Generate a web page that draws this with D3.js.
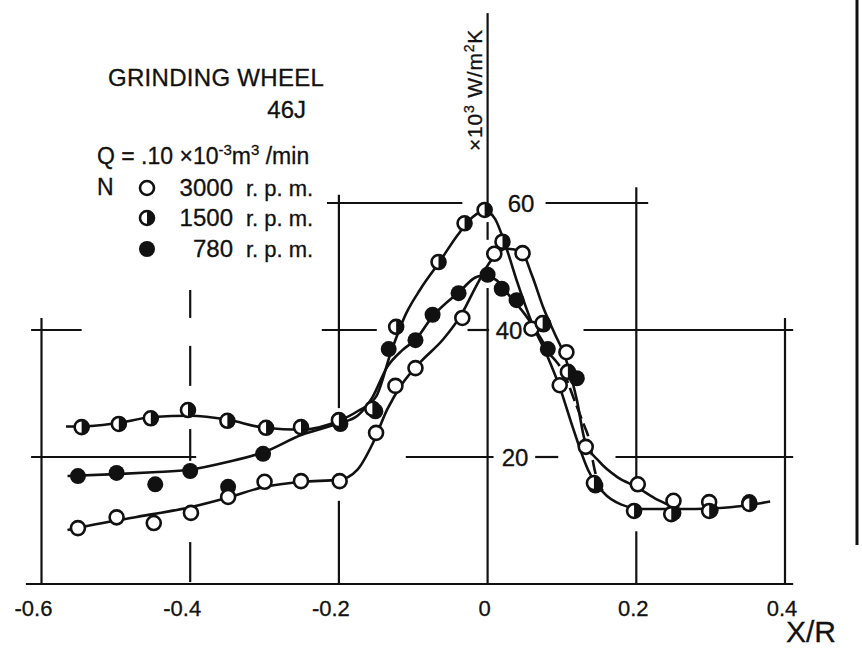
<!DOCTYPE html>
<html>
<head>
<meta charset="utf-8">
<script src="https://cdn.jsdelivr.net/npm/d3@7"></script>
<style>
  body { margin: 0; background: #fff; }
  svg { display: block; }
  text { font-family: "Liberation Sans", Arial, sans-serif; fill: #111; stroke: #111; stroke-width: 0.3; }
</style>
</head>
<body>
<svg id="chart" width="862" height="648"></svg>
<script>
// tick values
const xTicks = [-0.6, -0.4, -0.2, 0, 0.2, 0.4];
const yTicks = [20, 40, 60];

// measured points [X/R, h x10^3 W/m2K]
const pts3000 = [[-0.551,8.8],[-0.499,10.5],[-0.449,9.6],[-0.399,11.2],[-0.349,13.7],[-0.30,16.1],[-0.251,16.2],[-0.199,16.2],[-0.15,23.8],[-0.124,31.2],[-0.097,34.0],[-0.034,41.9],[0.009,52.0],[0.047,52.1],[0.059,40.2],[0.075,40.9],[0.106,36.5],[0.097,31.3],[0.132,21.6],[0.202,15.7],[0.25,13.1],[0.298,12.9]];
const pts1500 = [[-0.546,24.7],[-0.496,25.2],[-0.453,26.1],[-0.403,27.4],[-0.35,25.7],[-0.298,24.6],[-0.251,24.7],[-0.2,25.8],[-0.155,27.6],[-0.123,40.5],[-0.066,50.7],[-0.031,56.8],[-0.004,58.9],[0.02,53.9],[0.074,41.1],[0.108,33.4],[0.143,15.9],[0.197,11.5],[0.247,11.0],[0.298,11.5],[0.352,12.6]];
const pts780 = [[-0.551,17.0],[-0.499,17.5],[-0.447,15.7],[-0.40,17.8],[-0.349,15.3],[-0.302,20.5],[-0.198,25.2],[-0.151,27.2],[-0.133,37.0],[-0.097,38.4],[-0.074,42.4],[-0.039,45.8],[0.0,48.7],[0.019,46.5],[0.039,44.7],[0.081,37.0],[0.12,32.4],[0.145,15.5],[0.25,11.2],[0.3,11.6],[0.352,12.9]];

// hand drawn fitted curves
const curve3000 = [[-0.565,8.5],[-0.5,10.0],[-0.45,11.0],[-0.4,12.1],[-0.35,13.6],[-0.3,15.3],[-0.25,16.1],[-0.2,16.4],[-0.175,18.0],[-0.155,22.0],[-0.135,27.5],[-0.115,31.5],[-0.09,35.0],[-0.06,38.5],[-0.035,42.5],[-0.015,47.0],[0.005,51.0],[0.025,52.8],[0.045,52.4],[0.06,48.5],[0.075,43.5],[0.09,39.5],[0.105,35.5],[0.12,29.0],[0.131,22.5],[0.15,19.3],[0.175,16.8],[0.2,15.3],[0.225,13.5],[0.245,12.4]];
const curve1500 = [[-0.567,24.8],[-0.546,24.8],[-0.5,25.3],[-0.45,26.3],[-0.4,26.5],[-0.35,25.9],[-0.3,24.6],[-0.25,24.3],[-0.2,25.7],[-0.175,27.2],[-0.15,29.5],[-0.13,36.5],[-0.11,42.5],[-0.09,46.5],[-0.066,50.5],[-0.04,55.0],[-0.02,57.8],[-0.004,58.8],[0.01,57.5],[0.025,53.0],[0.04,47.5],[0.06,41.0],[0.08,36.0],[0.097,31.0],[0.115,24.5],[0.135,18.0],[0.155,14.5],[0.18,12.5],[0.21,11.8],[0.26,11.8],[0.3,11.9],[0.35,12.4],[0.38,13.0]];
const curve780 = [[-0.565,17.0],[-0.5,17.3],[-0.45,17.6],[-0.4,18.0],[-0.35,19.2],[-0.3,20.8],[-0.25,23.5],[-0.2,25.3],[-0.175,26.5],[-0.155,29.4],[-0.135,34.2],[-0.115,36.8],[-0.096,38.6],[-0.075,42.0],[-0.04,45.8],[-0.01,48.5],[0.01,48.0],[0.03,45.3],[0.05,42.5],[0.07,39.0],[0.085,36.0]];
const curve780dash = [[0.085,36.0],[0.105,32.6],[0.115,29.5],[0.128,25.5],[0.137,22.5],[0.143,18.5],[0.15,15.5],[0.156,14.6]];

const svg = d3.select("#chart");

const x = d3.scaleLinear().domain([-0.6, 0.4]).range([41.5, 785]);
const y = d3.scaleLinear().domain([0, 60]).range([584, 203]);

// broken grid lines, drawn like the original sheet
const vSegs = [
  [-0.6, 0, 41.9],
  [-0.4, 41.9, 46.3], [-0.4, 31.2, 37.5], [-0.4, 19.4, 24.4], [-0.4, 0.3, 6.6],
  [-0.2, 27.7, 61.3], [-0.2, 0, 13.1],
  [0, 60, 89.9], [0, 54.2, 57.0], [0, 0, 46.6],
  [0.2, 16.2, 62.5], [0.2, 0, 8.3],
  [0.4, 0, 41.9]
];
const hSegs = [
  [60, -0.216, -0.034], [60, 0.078, 0.216],
  [40, -0.614, -0.546], [40, -0.223, -0.149], [40, -0.027, 0.002], [40, 0.129, 0.411],
  [20, -0.614, -0.392], [20, -0.110, 0.008], [20, 0.064, 0.095], [20, 0.172, 0.411],
  [0, -0.621, 0.411]
];

const grid = svg.append("g").attr("stroke", "#111").attr("stroke-width", 2.2);
grid.selectAll(".v").data(vSegs).enter().append("line")
  .attr("x1", d => x(d[0])).attr("x2", d => x(d[0]))
  .attr("y1", d => y(d[1])).attr("y2", d => y(d[2]));
grid.selectAll(".h").data(hSegs).enter().append("line")
  .attr("y1", d => y(d[0])).attr("y2", d => y(d[0]))
  .attr("x1", d => x(d[1])).attr("x2", d => x(d[2]));

// scan edge on the right
svg.append("line").attr("x1", 857).attr("x2", 857).attr("y1", 0).attr("y2", 545)
  .attr("stroke", "#111").attr("stroke-width", 3);

// x tick labels
svg.selectAll(".xt").data(xTicks).enter().append("text")
  .attr("x", d => x(d) - (d < 0 ? 8 : 3))
  .attr("y", 616)
  .attr("text-anchor", "middle")
  .attr("font-size", 22)
  .text(d => d === 0 ? "0" : d3.format(".1f")(d).replace("\u2212", "-"));

svg.append("text").attr("x", 786).attr("y", 642).attr("font-size", 30).text("X/R");

// y tick labels next to the centre axis
const yLabelX = {20: 515, 40: 509, 60: 521};
svg.selectAll(".yt").data(yTicks).enter().append("text")
  .attr("x", d => yLabelX[d])
  .attr("y", d => y(d) + 9)
  .attr("text-anchor", "middle")
  .attr("font-size", 24)
  .text(d => d);

// unit label
const unit = svg.append("text")
  .attr("transform", "translate(482,90) rotate(-90)")
  .attr("text-anchor", "middle")
  .attr("font-size", 21)
  .attr("letter-spacing", 0.8);
unit.append("tspan").text("×10");
unit.append("tspan").attr("font-size", 14).attr("dy", -8).text("3");
unit.append("tspan").attr("dy", 8).text(" W/m");
unit.append("tspan").attr("font-size", 14).attr("dy", -8).text("2");
unit.append("tspan").attr("dy", 8).text("K");

// curves
const line = d3.line().x(d => x(d[0])).y(d => y(d[1])).curve(d3.curveMonotoneX);
const curves = svg.append("g").attr("fill", "none").attr("stroke", "#111").attr("stroke-width", 2.6);
[curve3000, curve1500, curve780].forEach(c => curves.append("path").attr("d", line(c)));
curves.append("path").attr("d", line(curve780dash)).attr("stroke-dasharray", "14,5");

// markers
const R = 7;
const halfArc = d3.arc().innerRadius(0).outerRadius(R).startAngle(0).endAngle(Math.PI);

function drawMarker(g, kind) {
  if (kind === "open") {
    g.append("circle").attr("r", R).attr("fill", "#fff").attr("stroke", "#111").attr("stroke-width", 2.6);
  } else if (kind === "half") {
    g.append("circle").attr("r", R).attr("fill", "#fff").attr("stroke", "#111").attr("stroke-width", 2.6);
    g.append("path").attr("d", halfArc()).attr("fill", "#111");
  } else {
    g.append("circle").attr("r", R + 1).attr("fill", "#111");
  }
}

const series = [
  {pts: pts780, kind: "filled"},
  {pts: pts3000, kind: "open"},
  {pts: pts1500, kind: "half"}
];
series.forEach(s => {
  svg.append("g").selectAll("g").data(s.pts).enter().append("g")
    .attr("transform", d => `translate(${x(d[0])},${y(d[1])})`)
    .each(function() { drawMarker(d3.select(this), s.kind); });
});

// legend / annotation
svg.append("text").attr("x", 108).attr("y", 86).attr("font-size", 24).attr("letter-spacing", 0.3).text("GRINDING WHEEL");
svg.append("text").attr("x", 306).attr("y", 118).attr("text-anchor", "end").attr("font-size", 24).text("46J");

const q = svg.append("text").attr("x", 97).attr("y", 164).attr("font-size", 23);
q.append("tspan").text("Q = .10 ×10");
q.append("tspan").attr("font-size", 15).attr("dy", -9).text("-3");
q.append("tspan").attr("dy", 9).text("m");
q.append("tspan").attr("font-size", 15).attr("dy", -9).text("3");
q.append("tspan").attr("dy", 9).text(" /min");

svg.append("text").attr("x", 97).attr("y", 195).attr("font-size", 23).text("N");

const legendRows = [
  {label: "3000", kind: "open", cy: 188},
  {label: "1500", kind: "half", cy: 218},
  {label: "780", kind: "filled", cy: 249}
];
legendRows.forEach(r => {
  const g = svg.append("g").attr("transform", `translate(147,${r.cy})`);
  drawMarker(g, r.kind);
  svg.append("text").attr("x", 233).attr("y", r.cy + 8).attr("text-anchor", "end")
    .attr("font-size", 24).text(r.label);
  svg.append("text").attr("x", 246).attr("y", r.cy + 8)
    .attr("font-size", 22).text("r. p. m.");
});
</script>
</body>
</html>
